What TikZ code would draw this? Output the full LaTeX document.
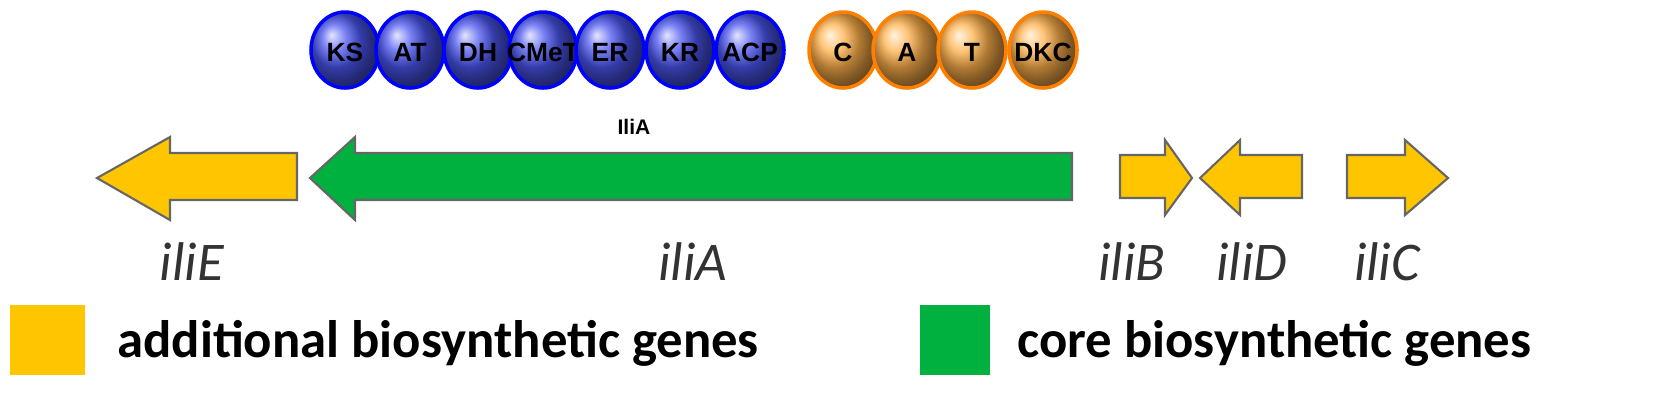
\documentclass[tikz,border=0pt]{standalone}
\usepackage{fontspec}
\setmainfont{Carlito}
\newfontfamily\hel{Liberation Sans}
\definecolor{gy}{HTML}{FFC600}
\definecolor{gg}{HTML}{00B140}
\definecolor{bb}{HTML}{4A55F0}
\definecolor{oo}{HTML}{FFB04A}
\begin{document}
\begin{tikzpicture}[x=0.01cm,y=-0.01cm,
 gene/.style={draw=black!60,line width=0.6pt},
 lab/.style={font=\itshape\fontsize{15.5}{17}\selectfont,text=black!80},
 leg/.style={font=\bfseries\fontsize{15}{17}\selectfont,anchor=west}]
\useasboundingbox (0,0) rectangle (1680,417);
% domains
\foreach \n/\x/\c/\d in {KS/345/bb/blue,AT/410/bb/blue,DH/478/bb/blue,CMeT/543/bb/blue,ER/610/bb/blue,KR/680/bb/blue,ACP/750/bb/blue,C/843/oo/orange,A/907/oo/orange,T/972/oo/orange,DKC/1043/oo/orange}{
  \shade[ball color=\c] (\x,50) ellipse [x radius=34, y radius=38];
  \draw[\d,line width=1pt] (\x,50) ellipse [x radius=34, y radius=38];
  \node[font=\hel\bfseries\fontsize{7.5}{8}\selectfont] (d\n) at (\x,52) {\n};
}
\node[font=\hel\bfseries\fontsize{6}{7}\selectfont] (prot) at (634,127) {IliA};
% genes
\filldraw[gene,fill=gy] (97,178) -- (170,137) -- (170,153) -- (297,153) -- (297,200) -- (170,200) -- (170,220) -- cycle;
\filldraw[gene,fill=gg] (310,178) -- (355,137) -- (355,153) -- (1072,153) -- (1072,200) -- (355,200) -- (355,220) -- cycle;
\filldraw[gene,fill=gy] (1192,178) -- (1165,140) -- (1165,155) -- (1120,155) -- (1120,198) -- (1165,198) -- (1165,215) -- cycle;
\filldraw[gene,fill=gy] (1200,178) -- (1240,140) -- (1240,155) -- (1302,155) -- (1302,198) -- (1240,198) -- (1240,215) -- cycle;
\filldraw[gene,fill=gy] (1448,178) -- (1405,140) -- (1405,155) -- (1347,155) -- (1347,198) -- (1405,198) -- (1405,215) -- cycle;
\node[lab] (lE) at (192,262) {iliE};
\node[lab] (lA) at (693,262) {iliA};
\node[lab] (lB) at (1132,262) {iliB};
\node[lab] (lD) at (1252,262) {iliD};
\node[lab] (lC) at (1387,262) {iliC};
% legend
\fill[gy] (10,305) rectangle (85,375);
\node[leg] (t1) at (105,343) {additional biosynthetic genes};
\fill[gg] (920,305) rectangle (990,375);
\node[leg] (t2) at (1005,343) {core biosynthetic genes};
\end{tikzpicture}
\end{document}
